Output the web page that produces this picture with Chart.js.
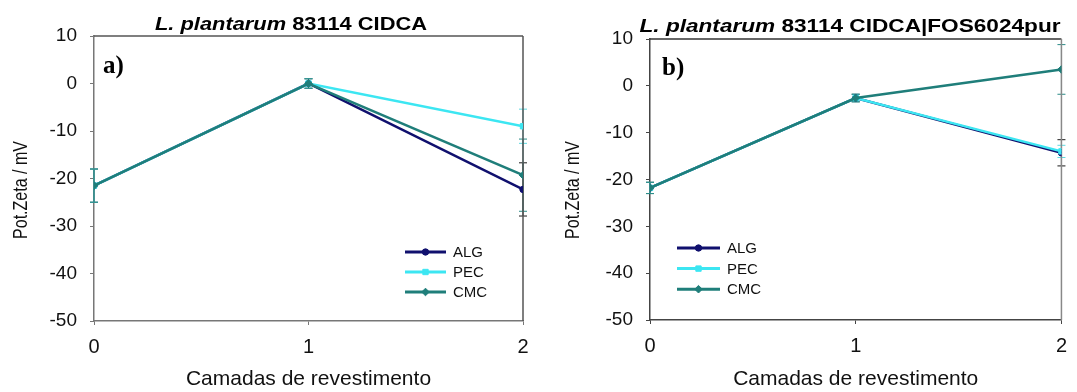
<!DOCTYPE html>
<html lang="pt">
  <head>
    <meta charset="utf-8" />
    <title>Potencial zeta por camadas</title>
    <style>
      * {
        margin: 0;
        padding: 0;
      }
      body {
        background: white;
        width: 1077px;
        height: 392px;
        position: relative;
        overflow: hidden;
      }
      .chartBox {
        position: absolute;
        top: 0;
        height: 392px;
      }
      #boxA {
        left: 0;
        width: 540px;
      }
      #boxB {
        left: 540px;
        width: 537px;
      }
    </style>
  </head>
  <body>
    <div class="chartBox" id="boxA"><canvas id="chartA"></canvas></div>
    <div class="chartBox" id="boxB"><canvas id="chartB"></canvas></div>

    <script src="https://cdn.jsdelivr.net/npm/chart.js@4/dist/chart.umd.min.js"></script>
    <script>
      // camadas de revestimento
      const layers = [0, 1, 2];
      const seriesNames = ["ALG", "PEC", "CMC"];

      // a) L. plantarum 83114 CIDCA
      const algA = [-21.5, 0, -22.3];
      const pecA = [-21.5, 0, -9.0];
      const cmcA = [-21.5, 0, -19.3];
      const algErrA = [3.5, 1.0, 5.6];
      const pecErrA = [3.5, 1.0, 3.6];
      const cmcErrA = [3.5, 1.0, 7.6];

      // b) L. plantarum 83114 CIDCA|FOS6024pur
      const algB = [-21.8, -2.6, -14.3];
      const pecB = [-21.8, -2.6, -14.0];
      const cmcB = [-21.8, -2.6, 3.5];
      const algErrB = [1.2, 0.8, 2.8];
      const pecErrB = [1.2, 0.8, 1.3];
      const cmcErrB = [1.2, 0.8, 5.3];

      const yTicks = [10, 0, -10, -20, -30, -40, -50];

      const colors = {
        ALG: "#10106e",
        PEC: "#3ce6f2",
        CMC: "#1f7e7a",
      };
      const errColors = {
        ALG: "#1a1a1a",
        PEC: "#5fd9e0",
        CMC: "#2a8a86",
      };
      const markers = {
        ALG: { style: "circle", radius: 3.2 },
        PEC: { style: "rect", radius: 3.8 },
        CMC: { style: "rectRot", radius: 3.8 },
      };

      const makeDataset = (name, values, errors, order) => ({
        label: name,
        data: values.map((v, i) => ({ x: layers[i], y: v })),
        errors: errors,
        borderColor: colors[name],
        backgroundColor: colors[name],
        borderWidth: 2.5,
        pointStyle: markers[name].style,
        pointRadius: markers[name].radius,
        pointBorderWidth: 1,
        order: order,
      });

      // vertical error bars with caps, drawn under the lines
      const errorBars = {
        id: "errorBars",
        beforeDatasetsDraw(chart) {
          const {
            ctx,
            scales: { x, y },
          } = chart;
          ctx.save();
          ctx.lineWidth = 1;
          chart.data.datasets.forEach((ds) => {
            ctx.strokeStyle = errColors[ds.label];
            ds.data.forEach((p, i) => {
              const e = ds.errors[i];
              const px = x.getPixelForValue(p.x);
              const top = y.getPixelForValue(p.y + e);
              const bot = y.getPixelForValue(p.y - e);
              ctx.beginPath();
              ctx.moveTo(px, top);
              ctx.lineTo(px, bot);
              ctx.moveTo(px - 4, top);
              ctx.lineTo(px + 4, top);
              ctx.moveTo(px - 4, bot);
              ctx.lineTo(px + 4, bot);
              ctx.stroke();
            });
          });
          ctx.restore();
        },
      };

      // top and right edges of the plot frame
      const plotFrame = {
        id: "plotFrame",
        beforeDatasetsDraw(chart, args, opts) {
          const {
            ctx,
            chartArea: { top, right, left, bottom },
          } = chart;
          ctx.save();
          ctx.lineWidth = 1.5;
          ctx.strokeStyle = opts.topColor;
          ctx.beginPath();
          ctx.moveTo(left, top);
          ctx.lineTo(right, top);
          ctx.stroke();
          ctx.strokeStyle = opts.rightColor;
          ctx.beginPath();
          ctx.moveTo(right, top);
          ctx.lineTo(right, bottom);
          ctx.stroke();
          ctx.restore();
        },
      };

      // heading (italic species name + strain), panel letter and y title
      const headings = {
        id: "headings",
        afterDraw(chart, args, opts) {
          const { ctx } = chart;
          ctx.save();
          ctx.fillStyle = "#000";
          ctx.textBaseline = "alphabetic";
          ctx.textAlign = "left";
          const italic = "italic bold 19px Arial, 'Liberation Sans', sans-serif";
          const plain = "bold 19px Arial, 'Liberation Sans', sans-serif";
          const first = "L. plantarum";
          const rest = " " + opts.strain;
          ctx.font = italic;
          const w1 = ctx.measureText(first).width;
          ctx.font = plain;
          const w2 = ctx.measureText(rest).width;
          // the heading is set a little wide
          const sx = opts.stretch;
          ctx.save();
          ctx.translate(opts.titleX - ((w1 + w2) * sx) / 2, opts.titleY);
          ctx.scale(sx, 1);
          ctx.font = italic;
          ctx.fillText(first, 0, 0);
          ctx.font = plain;
          ctx.fillText(rest, w1, 0);
          ctx.restore();

          ctx.font = "bold 25px 'Liberation Serif', 'Times New Roman', serif";
          ctx.fillText(opts.panel, opts.panelX, opts.panelY);

          ctx.save();
          ctx.translate(opts.yTitleX, opts.yTitleY);
          ctx.rotate(-Math.PI / 2);
          ctx.font = "16px Arial, 'Liberation Sans', sans-serif";
          ctx.textAlign = "center";
          ctx.textBaseline = "middle";
          ctx.fillStyle = "#111";
          ctx.scale(1, 1.32);
          ctx.fillText("Pot.Zeta / mV", 0, 0);
          ctx.restore();
          ctx.restore();
        },
      };

      // line-and-marker legend placed inside the plot
      const innerLegend = {
        id: "innerLegend",
        afterDraw(chart, args, opts) {
          const { ctx } = chart;
          ctx.save();
          ctx.font = "15px Arial, 'Liberation Sans', sans-serif";
          ctx.textBaseline = "middle";
          ctx.textAlign = "left";
          chart.data.datasets
            .slice()
            .sort((a, b) => seriesNames.indexOf(a.label) - seriesNames.indexOf(b.label))
            .forEach((ds, i) => {
              const yy = opts.y + i * opts.rowGap;
              ctx.strokeStyle = ds.borderColor;
              ctx.lineWidth = 3;
              ctx.beginPath();
              ctx.moveTo(opts.x, yy);
              ctx.lineTo(opts.x + opts.lineLen, yy);
              ctx.stroke();
              const m = markers[ds.label];
              ctx.fillStyle = ds.borderColor;
              ctx.strokeStyle = ds.borderColor;
              ctx.lineWidth = 1;
              Chart.helpers.drawPoint(
                ctx,
                { pointStyle: m.style, radius: m.radius, borderWidth: 1 },
                opts.x + opts.lineLen / 2,
                yy
              );
              ctx.fillStyle = "#111";
              ctx.fillText(ds.label, opts.x + opts.lineLen + 7, yy + 1);
            });
          ctx.restore();
        },
      };

      const axisFont = "Arial, 'Liberation Sans', sans-serif";

      const buildConfig = (sets, frame) => ({
        type: "line",
        data: { datasets: sets },
        options: {
          responsive: true,
          maintainAspectRatio: false,
          animation: false,
          layout: {
            padding: { top: frame.top, right: frame.right, left: 0, bottom: 0 },
          },
          plugins: {
            legend: { display: false },
            tooltip: { enabled: false },
            plotFrame: { topColor: frame.topColor, rightColor: frame.rightColor },
            headings: frame.headings,
            innerLegend: frame.legend,
          },
          scales: {
            x: {
              type: "linear",
              min: 0,
              max: 2,
              afterBuildTicks(scale) {
                scale.ticks = layers.map((v) => ({ value: v }));
              },
              afterFit(scale) {
                scale.height = frame.xHeight;
              },
              border: { display: true, color: frame.axisColor, width: 1.5 },
              grid: {
                display: true,
                drawOnChartArea: false,
                drawTicks: true,
                tickLength: 4,
                color: frame.axisColor,
              },
              ticks: {
                padding: 10,
                color: "#111",
                font: { family: axisFont, size: 20 },
              },
              title: {
                display: true,
                text: "Camadas de revestimento",
                color: "#111",
                font: { family: axisFont, size: 21 },
                padding: { top: 0, bottom: 0 },
              },
            },
            y: {
              min: -50,
              max: 10,
              afterBuildTicks(scale) {
                scale.ticks = yTicks.map((v) => ({ value: v }));
              },
              afterFit(scale) {
                scale.width = frame.yWidth;
              },
              border: { display: true, color: frame.axisColor, width: 1.5 },
              grid: {
                display: true,
                drawOnChartArea: false,
                drawTicks: true,
                tickLength: 4,
                color: frame.axisColor,
              },
              ticks: {
                padding: 13,
                color: "#111",
                font: { family: axisFont, size: 19 },
              },
            },
          },
        },
        plugins: [errorBars, plotFrame, headings, innerLegend],
      });

      new Chart(
        document.getElementById("chartA"),
        buildConfig(
          [
            makeDataset("ALG", algA, algErrA, 3),
            makeDataset("PEC", pecA, pecErrA, 2),
            makeDataset("CMC", cmcA, cmcErrA, 1),
          ],
          {
            top: 36,
            right: 17,
            xHeight: 71,
            yWidth: 94,
            axisColor: "#777",
            topColor: "#555",
            rightColor: "#555",
            headings: {
              strain: "83114 CIDCA",
              stretch: 1.15,
              titleX: 291,
              titleY: 30,
              panel: "a)",
              panelX: 103,
              panelY: 73,
              yTitleX: 21,
              yTitleY: 190,
            },
            legend: { x: 405, y: 252, rowGap: 20, lineLen: 41 },
          }
        )
      );

      new Chart(
        document.getElementById("chartB"),
        buildConfig(
          [
            makeDataset("ALG", algB, algErrB, 3),
            makeDataset("PEC", pecB, pecErrB, 2),
            makeDataset("CMC", cmcB, cmcErrB, 1),
          ],
          {
            top: 39,
            right: 8,
            xHeight: 72,
            yWidth: 110,
            axisColor: "#444",
            topColor: "#333",
            rightColor: "#888",
            headings: {
              strain: "83114 CIDCA|FOS6024pur",
              stretch: 1.19,
              titleX: 310,
              titleY: 32,
              panel: "b)",
              panelX: 122,
              panelY: 75,
              yTitleX: 33,
              yTitleY: 190,
            },
            legend: { x: 137, y: 248, rowGap: 20.6, lineLen: 43 },
          }
        )
      );
    </script>
  </body>
</html>
